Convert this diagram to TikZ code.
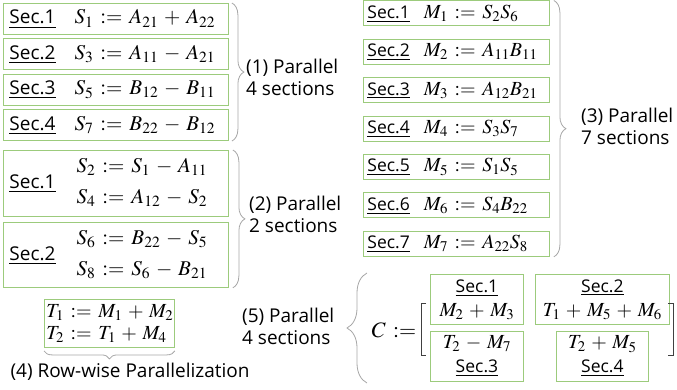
\documentclass[tikz,border=0pt]{standalone}
\usepackage{amsmath}
\usepackage{mathptmx}
\usepackage[no-math]{fontspec}
\setmainfont{Open Sans}
\usetikzlibrary{positioning, decorations.pathreplacing}
\definecolor{secgreen}{HTML}{9CCB7C}
\definecolor{bracegray}{HTML}{A6A6A6}
\definecolor{brackdark}{HTML}{404040}
\thickmuskip=6mu
\medmuskip=5mu
\newcommand{\secno}[1]{\underline{Sec.#1}}
\newcommand{\mq}[2][21]{\mbox{\fontsize{#1}{24}\selectfont$#2$}}
\begin{document}
\begin{tikzpicture}[x=1pt, y=-1pt,
    font=\fontsize{19}{22}\selectfont,
    secbox/.style={draw=secgreen, line width=0.9pt, inner xsep=6pt, inner ysep=0pt, align=left, text width=213pt, minimum height=31pt},
    mbox/.style={secbox, inner xsep=4pt, text width=178pt, minimum height=25pt, font=\fontsize{17.5}{20}\selectfont},
    cbox/.style={draw=secgreen, line width=0.9pt, inner sep=1pt, align=center, minimum height=50pt, font=\fontsize{17.5}{24}\selectfont},
    grpbrace/.style={draw=bracegray, line width=0.8pt, decorate, decoration={brace, amplitude=#1}},
    lbl/.style={align=left, inner sep=0pt, font=\fontsize{19}{22}\selectfont}
  ]
    \useasboundingbox (0,0) rectangle (677,390);
    % (1) four sections
    \node[secbox, anchor=north west] (s1) at (3,3) {\secno{1}\hspace{19pt}\mq{S_1 := A_{21} + A_{22}}};
    \node[secbox, below=3.5pt of s1] (s3) {\secno{2}\hspace{19pt}\mq{S_3 := A_{11} - A_{21}}};
    \node[secbox, below=3.5pt of s3] (s5) {\secno{3}\hspace{19pt}\mq{S_5 := B_{12} - B_{11}}};
    \node[secbox, below=3.5pt of s5] (s7) {\secno{4}\hspace{19pt}\mq{S_7 := B_{22} - B_{12}}};
    \draw[grpbrace=12pt] ([xshift=3pt]s1.north east) -- ([xshift=3pt]s7.south east);
    \node[lbl, anchor=north west] (p1) at (246,59) {(1) Parallel\\4 sections};
    % (2) two sections
    \node[secbox, anchor=north west, minimum height=66pt] (s24) at (3,150) {\secno{1}\hspace{21pt}\mq{\begin{aligned} S_2 &:= S_1 - A_{11}\\[4pt] S_4 &:= A_{12} - S_2\end{aligned}}};
    \node[secbox, below=5pt of s24, minimum height=65pt] (s68) {\secno{2}\hspace{21pt}\mq{\begin{aligned} S_6 &:= B_{22} - S_5\\[4pt] S_8 &:= S_6 - B_{21}\end{aligned}}};
    \draw[grpbrace=12pt] ([xshift=4pt]s24.north east) -- ([xshift=4pt]s68.south east);
    \node[lbl, anchor=west] (p2) at (249,214) {(2) Parallel\\2 sections};
    % (3) seven sections
    \node[mbox, anchor=north west] (m1) at (363,0.5) {\mbox{\secno{1}\hspace{14pt}\mq[20]{M_1 := S_2 S_6}}};
    \node[mbox, below=12.5pt of m1] (m2) {\mbox{\secno{2}\hspace{14pt}\mq[20]{M_2 := A_{11} B_{11}}}};
    \node[mbox, below=12.5pt of m2] (m3) {\mbox{\secno{3}\hspace{14pt}\mq[20]{M_3 := A_{12} B_{21}}}};
    \node[mbox, below=12.5pt of m3] (m4) {\mbox{\secno{4}\hspace{14pt}\mq[20]{M_4 := S_3 S_7}}};
    \node[mbox, below=12.5pt of m4] (m5) {\mbox{\secno{5}\hspace{14pt}\mq[20]{M_5 := S_1 S_5}}};
    \node[mbox, below=12.5pt of m5] (m6) {\mbox{\secno{6}\hspace{14pt}\mq[20]{M_6 := S_4 B_{22}}}};
    \node[mbox, below=12.5pt of m6] (m7) {\mbox{\secno{7}\hspace{14pt}\mq[20]{M_7 := A_{22} S_8}}};
    \draw[grpbrace=12pt] ([xshift=4pt]m1.north east) -- ([xshift=4pt]m7.south east);
    \node[lbl, anchor=west] (p3) at (581,126) {(3) Parallel\\7 sections};
    % (4) row-wise
    \node[secbox, anchor=north west, text width=126pt, inner xsep=2pt, minimum height=48pt, font=\fontsize{19}{22}\selectfont] (t) at (44,299) {\mq[20]{T_1 := M_1 + M_2}\\\mq[20]{T_2 := T_1 + M_4}};
    \draw[grpbrace=8pt] ([yshift=-3pt]t.south east) -- ([yshift=-3pt]t.south west);
    \node[lbl] (p4) at (130,372) {(4) Row-wise Parallelization};
    % (5) four sections of C
    \node[lbl, anchor=west] (p5) at (242,326) {(5) Parallel\\4 sections};
    \node[inner sep=0pt] (c) at (394,330) {\mq[22]{C :=}};
    \node[cbox, anchor=north west, minimum width=93pt] (c1) at (430,274) {\secno{1}\\\mq[20]{M_2 + M_3}};
    \node[cbox, right=11pt of c1, minimum width=134pt] (c2) {\secno{2}\\\mq[20]{T_1 + M_5 + M_6}};
    \node[cbox, below=6pt of c1, minimum width=93pt] (c3) {\mq[20]{T_2 - M_7}\\\secno{3}};
    \node[cbox, below=6pt of c2, minimum width=92pt] (c4) {\mq[20]{T_2 + M_5}\\\secno{4}};
    \draw[grpbrace=20pt] (367,383) -- (367,273);
    \draw[brackdark, line width=1pt] (426,303) -- (421,303) -- (421,355) -- (426,355);
    \draw[brackdark, line width=1pt] (668,303) -- (673,303) -- (673,355) -- (668,355);
\end{tikzpicture}
\end{document}
